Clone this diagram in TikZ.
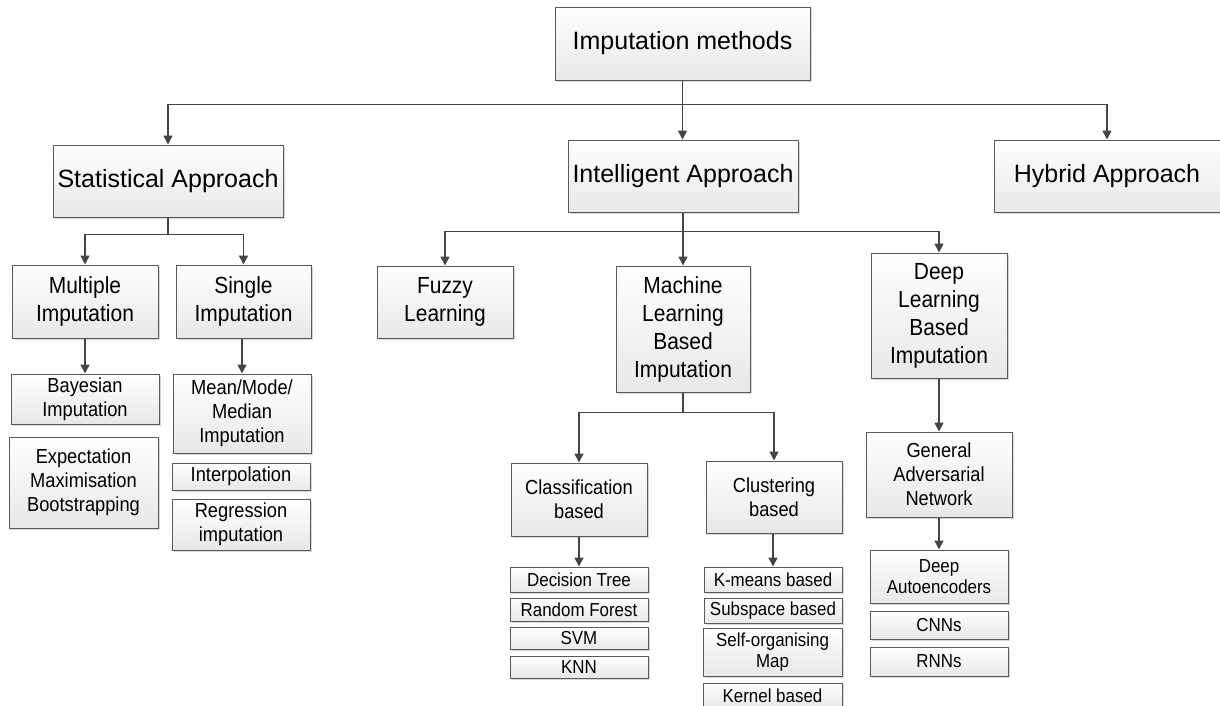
\documentclass[tikz,border=0pt]{standalone}
\usepackage{fontspec}
\setmainfont{Liberation Sans}
\newfontfamily\narrowsans[FakeStretch=0.9]{Liberation Sans}
\usetikzlibrary{shadows,arrows.meta}
\definecolor{boxedge}{HTML}{5A5A5A}
\definecolor{wirecol}{HTML}{454545}
\tikzset{
  cbox/.style={draw=boxedge, line width=1pt, top color=white, bottom color=black!9,
    drop shadow={shadow xshift=1.8pt, shadow yshift=-1.8pt, fill=black!30, opacity=0.5},
    inner sep=0pt, align=center, text=black},
  sz/.style 2 args={minimum width=#1pt, minimum height=#2pt},
  fbig/.style={font=\fontsize{25}{29}\selectfont},
  fmid/.style={font=\narrowsans\fontsize{23.3}{28}\selectfont},
  fsmall/.style={font=\narrowsans\fontsize{20.3}{24}\selectfont},
  ftiny/.style={font=\narrowsans\fontsize{18.8}{21.5}\selectfont},
  wire/.style={draw=wirecol, line width=1.6pt, -{Triangle[length=9pt,width=9pt]}},
}
\begin{document}
\begin{tikzpicture}[x=1pt,y=-1pt]
\useasboundingbox (0,0) rectangle (1220,705);

% top level
\node[cbox,fbig,sz={255}{73}] (top) at (682.5,43.5) {Imputation methods};
\node[cbox,fbig,sz={230}{72}] (stat) at (168,181) {Statistical Approach};
\node[cbox,fbig,sz={230}{72}] (intel) at (683,176) {Intelligent Approach};
\node[cbox,fbig,sz={226}{72}] (hyb) at (1107,176) {Hybrid Approach};

% statistical branch
\node[cbox,fmid,sz={146}{73}] (mult) at (85,301.5) {Multiple\\Imputation};
\node[cbox,fmid,sz={135}{73}] (single) at (243.5,301.5) {Single\\Imputation};
\node[cbox,fsmall,sz={148}{50}] (bayes) at (85,399) {Bayesian\\Imputation};
\node[cbox,fsmall,sz={149}{91}] (expect) at (83.5,482.5) {Expectation\\Maximisation\\Bootstrapping};
\node[cbox,fsmall,sz={138}{79}] (mean) at (242,413.5) {Mean/Mode/\\Median\\Imputation};
\node[cbox,fsmall,sz={138}{27}] (interp) at (241,476.5) {Interpolation};
\node[cbox,fsmall,sz={138}{51}] (regr) at (241,524.5) {Regression\\imputation};

% intelligent branch
\node[cbox,fmid,sz={136}{72}] (fuzzy) at (445,302) {Fuzzy\\Learning};
\node[cbox,fmid,sz={134}{126}] (ml) at (683,329) {Machine\\Learning\\Based\\Imputation};
\node[cbox,fmid,sz={136}{125}] (dl) at (939,315.5) {Deep\\Learning\\Based\\Imputation};

% machine learning sub-branches
\node[cbox,fsmall,sz={136}{73}] (class) at (579,499.5) {Classification\\based};
\node[cbox,fsmall,sz={136}{72}] (clust) at (774,497) {Clustering\\based};
\node[cbox,ftiny,sz={138}{25}] (dt) at (579,579.5) {Decision Tree};
\node[cbox,ftiny,sz={138}{23}] (rf) at (579,609.5) {Random Forest};
\node[cbox,ftiny,sz={138}{22}] (svm) at (579,638) {SVM};
\node[cbox,ftiny,sz={138}{22}] (knn) at (579,667) {KNN};
\node[cbox,ftiny,sz={138}{25}] (km) at (773,579.5) {K-means based};
\node[cbox,ftiny,sz={138}{25}] (sub) at (773,610.5) {Subspace based};
\node[cbox,ftiny,sz={139}{48}] (som) at (772.5,652) {Self-organising\\Map};
\node[cbox,ftiny,sz={139}{25}] (kern) at (772.5,695.5) {Kernel based};

% deep learning sub-branches
\node[cbox,fsmall,sz={146}{85}] (gan) at (939,474.5) {General\\Adversarial\\Network};
\node[cbox,ftiny,sz={138}{53}] (dae) at (939,576.5) {Deep\\Autoencoders};
\node[cbox,ftiny,sz={138}{28}] (cnn) at (939,625) {CNNs};
\node[cbox,ftiny,sz={138}{29}] (rnn) at (939,661.5) {RNNs};

% connectors
\draw[wire] (top.south) -- ++(0,24) -| (stat.north);
\draw[wire] (top.south) -- (top.south |- intel.north);
\draw[wire] (top.south) -- ++(0,24) -| (hyb.north);

\draw[wire] (stat.south) -- ++(0,17) -| (mult.north);
\draw[wire] (stat.south) -- ++(0,17) -| (single.north);
\draw[wire] (mult.south) -- (bayes.north);
\draw[wire] (mean.north |- single.south) -- (mean.north);

\draw[wire] (intel.south) -- ++(0,19) -| (fuzzy.north);
\draw[wire] (intel.south) -- (intel.south |- ml.north);
\draw[wire] (intel.south) -- ++(0,19) -| (dl.north);

\draw[wire] (ml.south) -- ++(0,20) -| (class.north);
\draw[wire] (ml.south) -- ++(0,20) -| (clust.north);
\draw[wire] (class.south) -- (dt.north);
\draw[wire] (clust.south -| km.north) -- (km.north);

\draw[wire] (dl.south) -- (gan.north);
\draw[wire] (gan.south) -- (dae.north);
\end{tikzpicture}
\end{document}
